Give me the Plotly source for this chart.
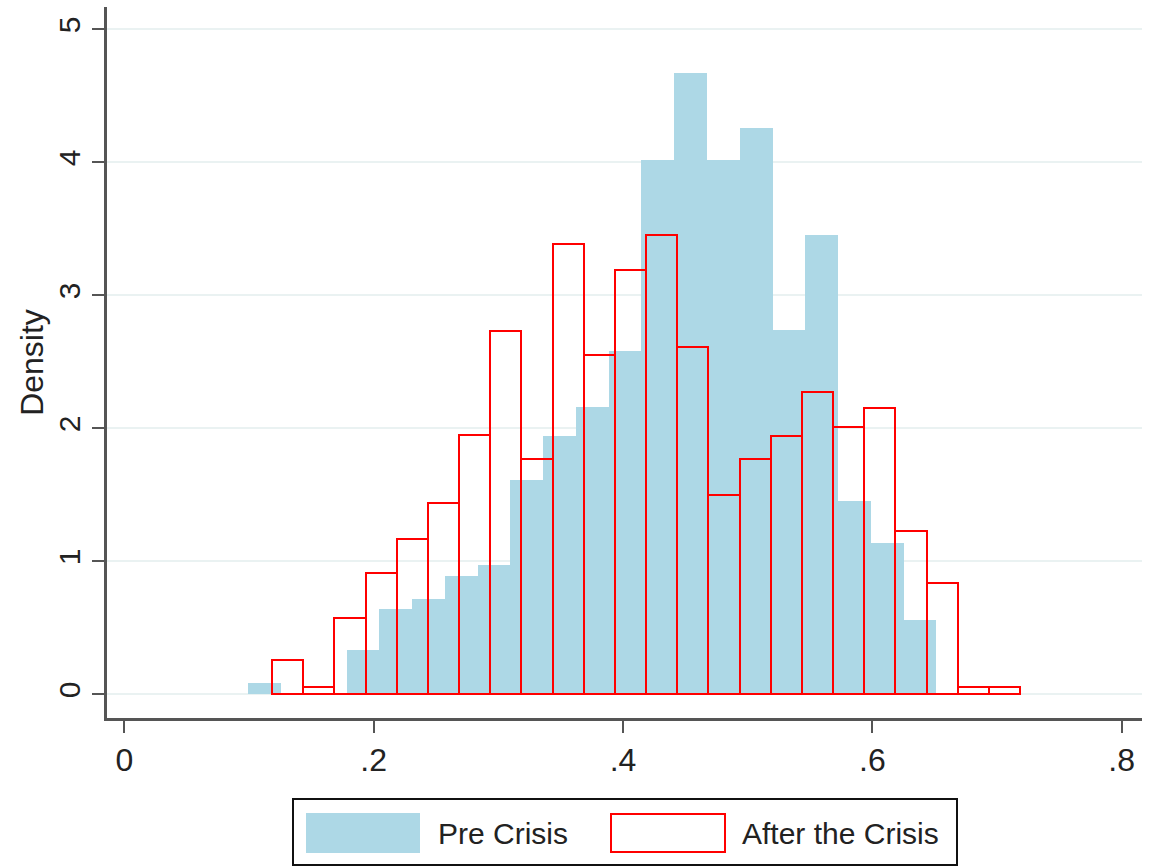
import numpy as np
import plotly.graph_objects as go

# ---- data (densities) ----
pre_label = "Pre Crisis"
post_label = "After the Crisis"

pre_bin_start = 0.0996
pre_bin_width = 0.02627
pre_density = [0.087, 0.0, 0.0, 0.333, 0.64, 0.72, 0.89, 0.97, 1.61, 1.94, 2.16,
               2.58, 4.02, 4.67, 4.02, 4.26, 2.74, 3.45, 1.45, 1.14, 0.56]

post_bin_start = 0.1185
post_bin_width = 0.025
post_density = [0.258, 0.057, 0.571, 0.91, 1.168, 1.436, 1.95, 2.73, 1.77, 3.386,
                2.55, 3.19, 3.45, 2.61, 1.50, 1.77, 1.94, 2.275, 2.01, 2.155,
                1.23, 0.84, 0.057, 0.057]

x_tickvals = [0, 0.2, 0.4, 0.6, 0.8]
x_ticktext = ["0", ".2", ".4", ".6", ".8"]
y_tickvals = [0, 1, 2, 3, 4, 5]
y_ticktext = ["0", "1", "2", "3", "4", "5"]

pre_centers = pre_bin_start + pre_bin_width * (np.arange(len(pre_density)) + 0.5)
post_centers = post_bin_start + post_bin_width * (np.arange(len(post_density)) + 0.5)

BLUE = "#ADD8E6"
RED = "#FF0000"
FONT = "Liberation Sans"
TXT = "#222222"
AXC = "#555555"

W, H = 1158, 868
ML, MR, MT, MB = 107, 16, 7, 150
PW, PH = W - ML - MR, H - MT - MB


def px(x):
    return (x - ML) / PW


def py(y):
    return (H - MB - y) / PH


fig = go.Figure()
fig.add_trace(go.Bar(
    x=pre_centers, y=pre_density, width=pre_bin_width,
    marker=dict(color=BLUE, line=dict(width=0)),
    name=pre_label, showlegend=False, hoverinfo="x+y",
))
fig.add_trace(go.Bar(
    x=post_centers, y=post_density, width=post_bin_width,
    marker=dict(color="rgba(0,0,0,0)", line=dict(color=RED, width=2)),
    name=post_label, showlegend=False, hoverinfo="x+y",
))

# manual legend
shapes = [
    dict(type="rect", xref="paper", yref="paper",
         x0=px(293), x1=px(957), y0=py(865), y1=py(799),
         line=dict(color="#111111", width=2), fillcolor="white"),
    dict(type="rect", xref="paper", yref="paper",
         x0=px(306), x1=px(420), y0=py(853), y1=py(813),
         line=dict(width=0), fillcolor=BLUE),
    dict(type="rect", xref="paper", yref="paper",
         x0=px(611), x1=px(725), y0=py(852), y1=py(814),
         line=dict(color=RED, width=2), fillcolor="white"),
]
annotations = [
    dict(text=pre_label, xref="paper", yref="paper", x=px(436), y=py(833),
         xanchor="left", yanchor="middle", showarrow=False,
         font=dict(family=FONT, size=30, color=TXT)),
    dict(text=post_label, xref="paper", yref="paper", x=px(740), y=py(833),
         xanchor="left", yanchor="middle", showarrow=False,
         font=dict(family=FONT, size=30, color=TXT)),
]

fig.update_layout(
    width=W, height=H,
    margin=dict(l=ML, r=MR, t=MT, b=MB, pad=0),
    paper_bgcolor="white", plot_bgcolor="white",
    barmode="overlay", bargap=0,
    showlegend=False,
    shapes=shapes, annotations=annotations,
    font=dict(family=FONT, color=TXT),
    xaxis=dict(
        range=[-0.01388, 0.8163], tickvals=x_tickvals, ticktext=x_ticktext,
        showgrid=False, zeroline=False,
        showline=True, linecolor=AXC, linewidth=3,
        ticks="outside", ticklen=12, tickwidth=2, tickcolor=AXC,
        tickfont=dict(family=FONT, size=32, color=TXT),
    ),
    yaxis=dict(
        range=[-0.178, 5.168], tickvals=y_tickvals, ticktext=y_ticktext,
        showgrid=True, gridcolor="#EAF2F2", gridwidth=2, zeroline=False,
        showline=True, linecolor=AXC, linewidth=3,
        ticks="outside", ticklen=12, tickwidth=2, tickcolor=AXC,
        tickangle=-90,
        tickfont=dict(family=FONT, size=30, color=TXT),
        title=dict(text="Density", standoff=0,
                   font=dict(family=FONT, size=32, color=TXT)),
    ),
)

fig.write_html("out.html")
